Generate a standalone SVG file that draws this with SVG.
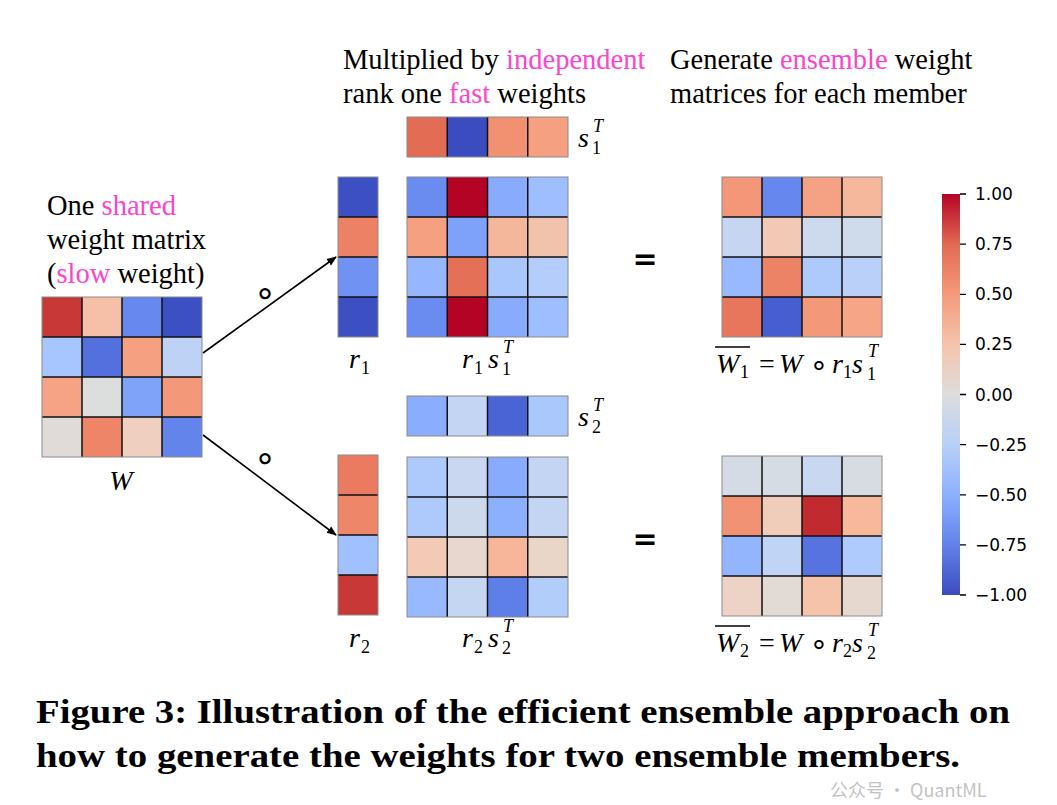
<svg xmlns="http://www.w3.org/2000/svg" width="1057" height="805" viewBox="0 0 1057 805">
<style>
.txt{font-family:"Liberation Serif","Times New Roman",serif;font-size:28.5px;fill:#000}
.pk{fill:#ff44cc}
.m{font-family:"Liberation Serif","Times New Roman",serif;font-style:italic;font-size:28px;fill:#000}
.sub{font-family:"Liberation Serif","Times New Roman",serif;font-style:normal;font-size:18px;fill:#000}
.sup{font-family:"Liberation Serif","Times New Roman",serif;font-style:italic;font-size:18px;fill:#000}
.op{font-family:"Liberation Serif","Times New Roman",serif;font-size:28px;fill:#000}
.ring{font-family:"DejaVu Sans",sans-serif;font-size:30px;fill:#000}
.ring2{font-family:"DejaVu Sans",sans-serif;font-size:36px;fill:#000}
.eq{font-family:"DejaVu Sans",sans-serif;font-weight:bold;font-size:30px;fill:#000}
.grid{fill:none;stroke:#111;stroke-width:1.5}
.edge{fill:none;stroke:#8a8a8a;stroke-width:1}
.tick{stroke:#000;stroke-width:1.3}
.cb{font-family:"DejaVu Sans",sans-serif;font-size:17px;fill:#000}
.cap{font-family:"Liberation Serif","Times New Roman",serif;font-weight:bold;font-size:34px;fill:#000}
.wm{font-family:"Noto Sans CJK SC","DejaVu Sans",sans-serif;font-size:18px;fill:#9a9a9a;opacity:0.6}
.conn{stroke:#000;stroke-width:1.6;fill:none}
</style>
<defs>
<marker id="ah" viewBox="0 0 10 10" refX="9" refY="5" markerWidth="10" markerHeight="10" markerUnits="userSpaceOnUse" orient="auto">
<path d="M0,1 L10,5 L0,9 Z" fill="#000"/>
</marker>
<linearGradient id="cw" x1="0" y1="1" x2="0" y2="0">
<stop offset="0" stop-color="#3b4cc0"/>
<stop offset="0.125" stop-color="#6282ea"/>
<stop offset="0.25" stop-color="#8db0fe"/>
<stop offset="0.375" stop-color="#b8d0f9"/>
<stop offset="0.5" stop-color="#dddcdc"/>
<stop offset="0.625" stop-color="#f5c4ac"/>
<stop offset="0.75" stop-color="#f49a7b"/>
<stop offset="0.875" stop-color="#e26952"/>
<stop offset="1" stop-color="#b40426"/>
</linearGradient>
</defs>

<rect width="1057" height="805" fill="#fff"/>

<!-- Top texts -->
<g id="text-multiplied">
<text class="txt" x="343" y="69">Multiplied by <tspan class="pk">independent</tspan></text>
<text class="txt" x="343" y="103">rank one <tspan class="pk">fast</tspan> weights</text>
</g>
<g id="text-generate">
<text class="txt" x="670" y="69">Generate <tspan class="pk">ensemble</tspan> weight</text>
<text class="txt" x="670" y="103">matrices for each member</text>
</g>
<g id="text-shared">
<text class="txt" x="47" y="215">One <tspan class="pk">shared</tspan></text>
<text class="txt" x="47" y="249">weight matrix</text>
<text class="txt" x="47" y="283">(<tspan class="pk">slow</tspan> weight)</text>
</g>

<!-- W -->
<g id="node-W">
<rect x="42" y="297" width="40" height="40" fill="#c83836"/>
<rect x="82" y="297" width="40" height="40" fill="#f5c0a7"/>
<rect x="122" y="297" width="40" height="40" fill="#6788ee"/>
<rect x="162" y="297" width="40" height="40" fill="#3d50c3"/>
<rect x="42" y="337" width="40" height="40" fill="#a7c5fe"/>
<rect x="82" y="337" width="40" height="40" fill="#5470de"/>
<rect x="122" y="337" width="40" height="40" fill="#f5a081"/>
<rect x="162" y="337" width="40" height="40" fill="#bed2f6"/>
<rect x="42" y="377" width="40" height="40" fill="#f6a385"/>
<rect x="82" y="377" width="40" height="40" fill="#dcdddd"/>
<rect x="122" y="377" width="40" height="40" fill="#80a3fa"/>
<rect x="162" y="377" width="40" height="40" fill="#f4987a"/>
<rect x="42" y="417" width="40" height="40" fill="#e0dbd8"/>
<rect x="82" y="417" width="40" height="40" fill="#ee8468"/>
<rect x="122" y="417" width="40" height="40" fill="#efcfbf"/>
<rect x="162" y="417" width="40" height="40" fill="#6384eb"/>
<path class="grid" d="M82,297V457M122,297V457M162,297V457M42,337H202M42,377H202M42,417H202"/>
<rect class="edge" x="42" y="297" width="160" height="160"/>
<text class="m" x="121" y="490" text-anchor="middle">W</text>
</g>

<!-- r1 -->
<g id="node-r1">
<rect x="338" y="177" width="40" height="40" fill="#3d50c3"/>
<rect x="338" y="217" width="40" height="40" fill="#ec8165"/>
<rect x="338" y="257" width="40" height="40" fill="#6f92f3"/>
<rect x="338" y="297" width="40" height="40" fill="#3d50c3"/>
<path class="grid" d="M338,217H378M338,257H378M338,297H378"/>
<rect class="edge" x="338" y="177" width="40" height="160"/>
<text class="m" x="349" y="368">r</text>
<text class="sub" x="361" y="374">1</text>
</g>

<!-- s1T -->
<g id="node-s1T">
<rect x="407" y="117" width="40.25" height="40" fill="#e36c55"/>
<rect x="447.25" y="117" width="40.25" height="40" fill="#3b4cc0"/>
<rect x="487.5" y="117" width="40.25" height="40" fill="#f29072"/>
<rect x="527.75" y="117" width="40.25" height="40" fill="#f5a081"/>
<path class="grid" d="M447.25,117V157M487.5,117V157M527.75,117V157"/>
<rect class="edge" x="407" y="117" width="161" height="40"/>
<text class="m" x="578" y="147">s</text>
<text class="sub" x="592" y="154">1</text>
<text class="sup" x="593" y="132">T</text>
</g>

<!-- r1s1T -->
<g id="node-r1s1T">
<rect x="407" y="177" width="40.25" height="40" fill="#6a8bef"/>
<rect x="447.25" y="177" width="40.25" height="40" fill="#b40426"/>
<rect x="487.5" y="177" width="40.25" height="40" fill="#88abfd"/>
<rect x="527.75" y="177" width="40.25" height="40" fill="#9ebeff"/>
<rect x="407" y="217" width="40.25" height="40" fill="#f5a081"/>
<rect x="447.25" y="217" width="40.25" height="40" fill="#7ea1fa"/>
<rect x="487.5" y="217" width="40.25" height="40" fill="#f4b79b"/>
<rect x="527.75" y="217" width="40.25" height="40" fill="#f2c3ac"/>
<rect x="407" y="257" width="40.25" height="40" fill="#96b7ff"/>
<rect x="447.25" y="257" width="40.25" height="40" fill="#e57058"/>
<rect x="487.5" y="257" width="40.25" height="40" fill="#a9c6fd"/>
<rect x="527.75" y="257" width="40.25" height="40" fill="#b5cdfa"/>
<rect x="407" y="297" width="40.25" height="40" fill="#6a8bef"/>
<rect x="447.25" y="297" width="40.25" height="40" fill="#b40426"/>
<rect x="487.5" y="297" width="40.25" height="40" fill="#88abfd"/>
<rect x="527.75" y="297" width="40.25" height="40" fill="#9ebeff"/>
<path class="grid" d="M447.25,177V337M487.5,177V337M527.75,177V337M407,217H568M407,257H568M407,297H568"/>
<rect class="edge" x="407" y="177" width="161" height="160"/>
<text class="m" x="462" y="368">r</text>
<text class="sub" x="474" y="374">1</text>
<text class="m" x="488" y="368">s</text>
<text class="sub" x="502" y="375">1</text>
<text class="sup" x="503" y="353">T</text>
</g>

<!-- W1 -->
<g id="node-W1">
<rect x="722" y="177" width="40" height="40" fill="#f39778"/>
<rect x="762" y="177" width="40" height="40" fill="#6687ed"/>
<rect x="802" y="177" width="40" height="40" fill="#f5a183"/>
<rect x="842" y="177" width="40" height="40" fill="#f5b89d"/>
<rect x="722" y="217" width="40" height="40" fill="#c6d6f1"/>
<rect x="762" y="217" width="40" height="40" fill="#f2c9b4"/>
<rect x="802" y="217" width="40" height="40" fill="#cdd9ec"/>
<rect x="842" y="217" width="40" height="40" fill="#cfdaea"/>
<rect x="722" y="257" width="40" height="40" fill="#98b9ff"/>
<rect x="762" y="257" width="40" height="40" fill="#ed8366"/>
<rect x="802" y="257" width="40" height="40" fill="#aec9fc"/>
<rect x="842" y="257" width="40" height="40" fill="#bad0f8"/>
<rect x="722" y="297" width="40" height="40" fill="#e8765c"/>
<rect x="762" y="297" width="40" height="40" fill="#465ecf"/>
<rect x="802" y="297" width="40" height="40" fill="#f4987a"/>
<rect x="842" y="297" width="40" height="40" fill="#f6a586"/>
<path class="grid" d="M762,177V337M802,177V337M842,177V337M722,217H882M722,257H882M722,297H882"/>
<rect class="edge" x="722" y="177" width="160" height="160"/>
<text class="eq" x="645" y="269" text-anchor="middle">=</text>
<line x1="715" y1="347" x2="750" y2="347" stroke="#000" stroke-width="1.4"/>
<text class="m" x="716" y="373">W</text>
<text class="sub" x="740" y="378">1</text>
<text class="op" x="767" y="373" text-anchor="middle">=</text>
<text class="m" x="779" y="373">W</text>
<text class="ring" x="819" y="375" text-anchor="middle">∘</text>
<text class="m" x="832" y="373">r</text>
<text class="sub" x="843" y="378">1</text>
<text class="m" x="852" y="373">s</text>
<text class="sub" x="867" y="380">1</text>
<text class="sup" x="868" y="357">T</text>
</g>

<!-- s2T -->
<g id="node-s2T">
<rect x="407" y="396" width="40.25" height="40" fill="#8badfd"/>
<rect x="447.25" y="396" width="40.25" height="40" fill="#c4d5f3"/>
<rect x="487.5" y="396" width="40.25" height="40" fill="#4b64d5"/>
<rect x="527.75" y="396" width="40.25" height="40" fill="#abc8fd"/>
<path class="grid" d="M447.25,396V436M487.5,396V436M527.75,396V436"/>
<rect class="edge" x="407" y="396" width="161" height="40"/>
<text class="m" x="578" y="426">s</text>
<text class="sub" x="592" y="433">2</text>
<text class="sup" x="593" y="411">T</text>
</g>

<!-- r2 -->
<g id="node-r2">
<rect x="338" y="455" width="40" height="40" fill="#ea7b60"/>
<rect x="338" y="495" width="40" height="40" fill="#ee8669"/>
<rect x="338" y="535" width="40" height="40" fill="#a1c0ff"/>
<rect x="338" y="575" width="40" height="40" fill="#c83836"/>
<path class="grid" d="M338,495H378M338,535H378M338,575H378"/>
<rect class="edge" x="338" y="455" width="40" height="160"/>
<text class="m" x="349" y="647">r</text>
<text class="sub" x="361" y="653">2</text>
</g>

<!-- r2s2T -->
<g id="node-r2s2T">
<rect x="407" y="457" width="40.25" height="40" fill="#aec9fc"/>
<rect x="447.25" y="457" width="40.25" height="40" fill="#c9d7f0"/>
<rect x="487.5" y="457" width="40.25" height="40" fill="#88abfd"/>
<rect x="527.75" y="457" width="40.25" height="40" fill="#c4d5f3"/>
<rect x="407" y="497" width="40.25" height="40" fill="#aec9fc"/>
<rect x="447.25" y="497" width="40.25" height="40" fill="#ccd9ed"/>
<rect x="487.5" y="497" width="40.25" height="40" fill="#8caffe"/>
<rect x="527.75" y="497" width="40.25" height="40" fill="#c4d5f3"/>
<rect x="407" y="537" width="40.25" height="40" fill="#f2cab5"/>
<rect x="447.25" y="537" width="40.25" height="40" fill="#e7d7ce"/>
<rect x="487.5" y="537" width="40.25" height="40" fill="#f7b599"/>
<rect x="527.75" y="537" width="40.25" height="40" fill="#ead5c9"/>
<rect x="407" y="577" width="40.25" height="40" fill="#98b9ff"/>
<rect x="447.25" y="577" width="40.25" height="40" fill="#c5d6f2"/>
<rect x="487.5" y="577" width="40.25" height="40" fill="#5f7fe8"/>
<rect x="527.75" y="577" width="40.25" height="40" fill="#b3cdfb"/>
<path class="grid" d="M447.25,457V617M487.5,457V617M527.75,457V617M407,497H568M407,537H568M407,577H568"/>
<rect class="edge" x="407" y="457" width="161" height="160"/>
<text class="m" x="462" y="647">r</text>
<text class="sub" x="474" y="653">2</text>
<text class="m" x="488" y="647">s</text>
<text class="sub" x="502" y="654">2</text>
<text class="sup" x="503" y="632">T</text>
</g>

<!-- W2 -->
<g id="node-W2">
<rect x="722" y="456" width="40" height="40" fill="#d5dbe5"/>
<rect x="762" y="456" width="40" height="40" fill="#d6dce4"/>
<rect x="802" y="456" width="40" height="40" fill="#c9d7f0"/>
<rect x="842" y="456" width="40" height="40" fill="#d7dce3"/>
<rect x="722" y="496" width="40" height="40" fill="#f29274"/>
<rect x="762" y="496" width="40" height="40" fill="#f0cdbb"/>
<rect x="802" y="496" width="40" height="40" fill="#c12b30"/>
<rect x="842" y="496" width="40" height="40" fill="#f7b89c"/>
<rect x="722" y="536" width="40" height="40" fill="#93b5fe"/>
<rect x="762" y="536" width="40" height="40" fill="#c0d4f5"/>
<rect x="802" y="536" width="40" height="40" fill="#5673e0"/>
<rect x="842" y="536" width="40" height="40" fill="#afcafc"/>
<rect x="722" y="576" width="40" height="40" fill="#ecd3c5"/>
<rect x="762" y="576" width="40" height="40" fill="#e2dad5"/>
<rect x="802" y="576" width="40" height="40" fill="#f5c2aa"/>
<rect x="842" y="576" width="40" height="40" fill="#e6d7cf"/>
<path class="grid" d="M762,456V616M802,456V616M842,456V616M722,496H882M722,536H882M722,576H882"/>
<rect class="edge" x="722" y="456" width="160" height="160"/>
<text class="eq" x="645" y="549" text-anchor="middle">=</text>
<line x1="715" y1="626" x2="750" y2="626" stroke="#000" stroke-width="1.4"/>
<text class="m" x="716" y="652">W</text>
<text class="sub" x="740" y="657">2</text>
<text class="op" x="767" y="652" text-anchor="middle">=</text>
<text class="m" x="779" y="652">W</text>
<text class="ring" x="819" y="654" text-anchor="middle">∘</text>
<text class="m" x="832" y="652">r</text>
<text class="sub" x="843" y="657">2</text>
<text class="m" x="852" y="652">s</text>
<text class="sub" x="867" y="659">2</text>
<text class="sup" x="868" y="636">T</text>
</g>

<!-- Connectors -->
<g id="connectors">
<line class="conn" x1="203" y1="353" x2="336" y2="257" marker-end="url(#ah)"/>
<line class="conn" x1="203" y1="435" x2="336" y2="535" marker-end="url(#ah)"/>
<text class="ring2" x="265" y="305" text-anchor="middle">∘</text>
<text class="ring2" x="265" y="470" text-anchor="middle">∘</text>
</g>

<!-- Colorbar -->
<g id="colorbar">
<rect x="942" y="194" width="18" height="401" fill="url(#cw)"/>
<path class="tick" d="M960,194H966M960,244.1H966M960,294.3H966M960,344.4H966M960,394.5H966M960,444.6H966M960,494.8H966M960,544.9H966M960,595H966"/>
<text class="cb" x="975" y="200">1.00</text>
<text class="cb" x="975" y="250.1">0.75</text>
<text class="cb" x="975" y="300.3">0.50</text>
<text class="cb" x="975" y="350.4">0.25</text>
<text class="cb" x="975" y="400.5">0.00</text>
<text class="cb" x="975" y="450.6">−0.25</text>
<text class="cb" x="975" y="500.8">−0.50</text>
<text class="cb" x="975" y="550.9">−0.75</text>
<text class="cb" x="975" y="601">−1.00</text>
</g>

<!-- Caption -->
<g id="caption">
<text class="cap" x="36" y="723" textLength="974" lengthAdjust="spacingAndGlyphs">Figure 3: Illustration of the efficient ensemble approach on</text>
<text class="cap" x="36" y="767" textLength="924" lengthAdjust="spacingAndGlyphs">how to generate the weights for two ensemble members.</text>
</g>

<!-- Watermark -->
<g id="watermark">
<text class="wm" x="830" y="797">公众号 · QuantML</text>
</g>
</svg>
